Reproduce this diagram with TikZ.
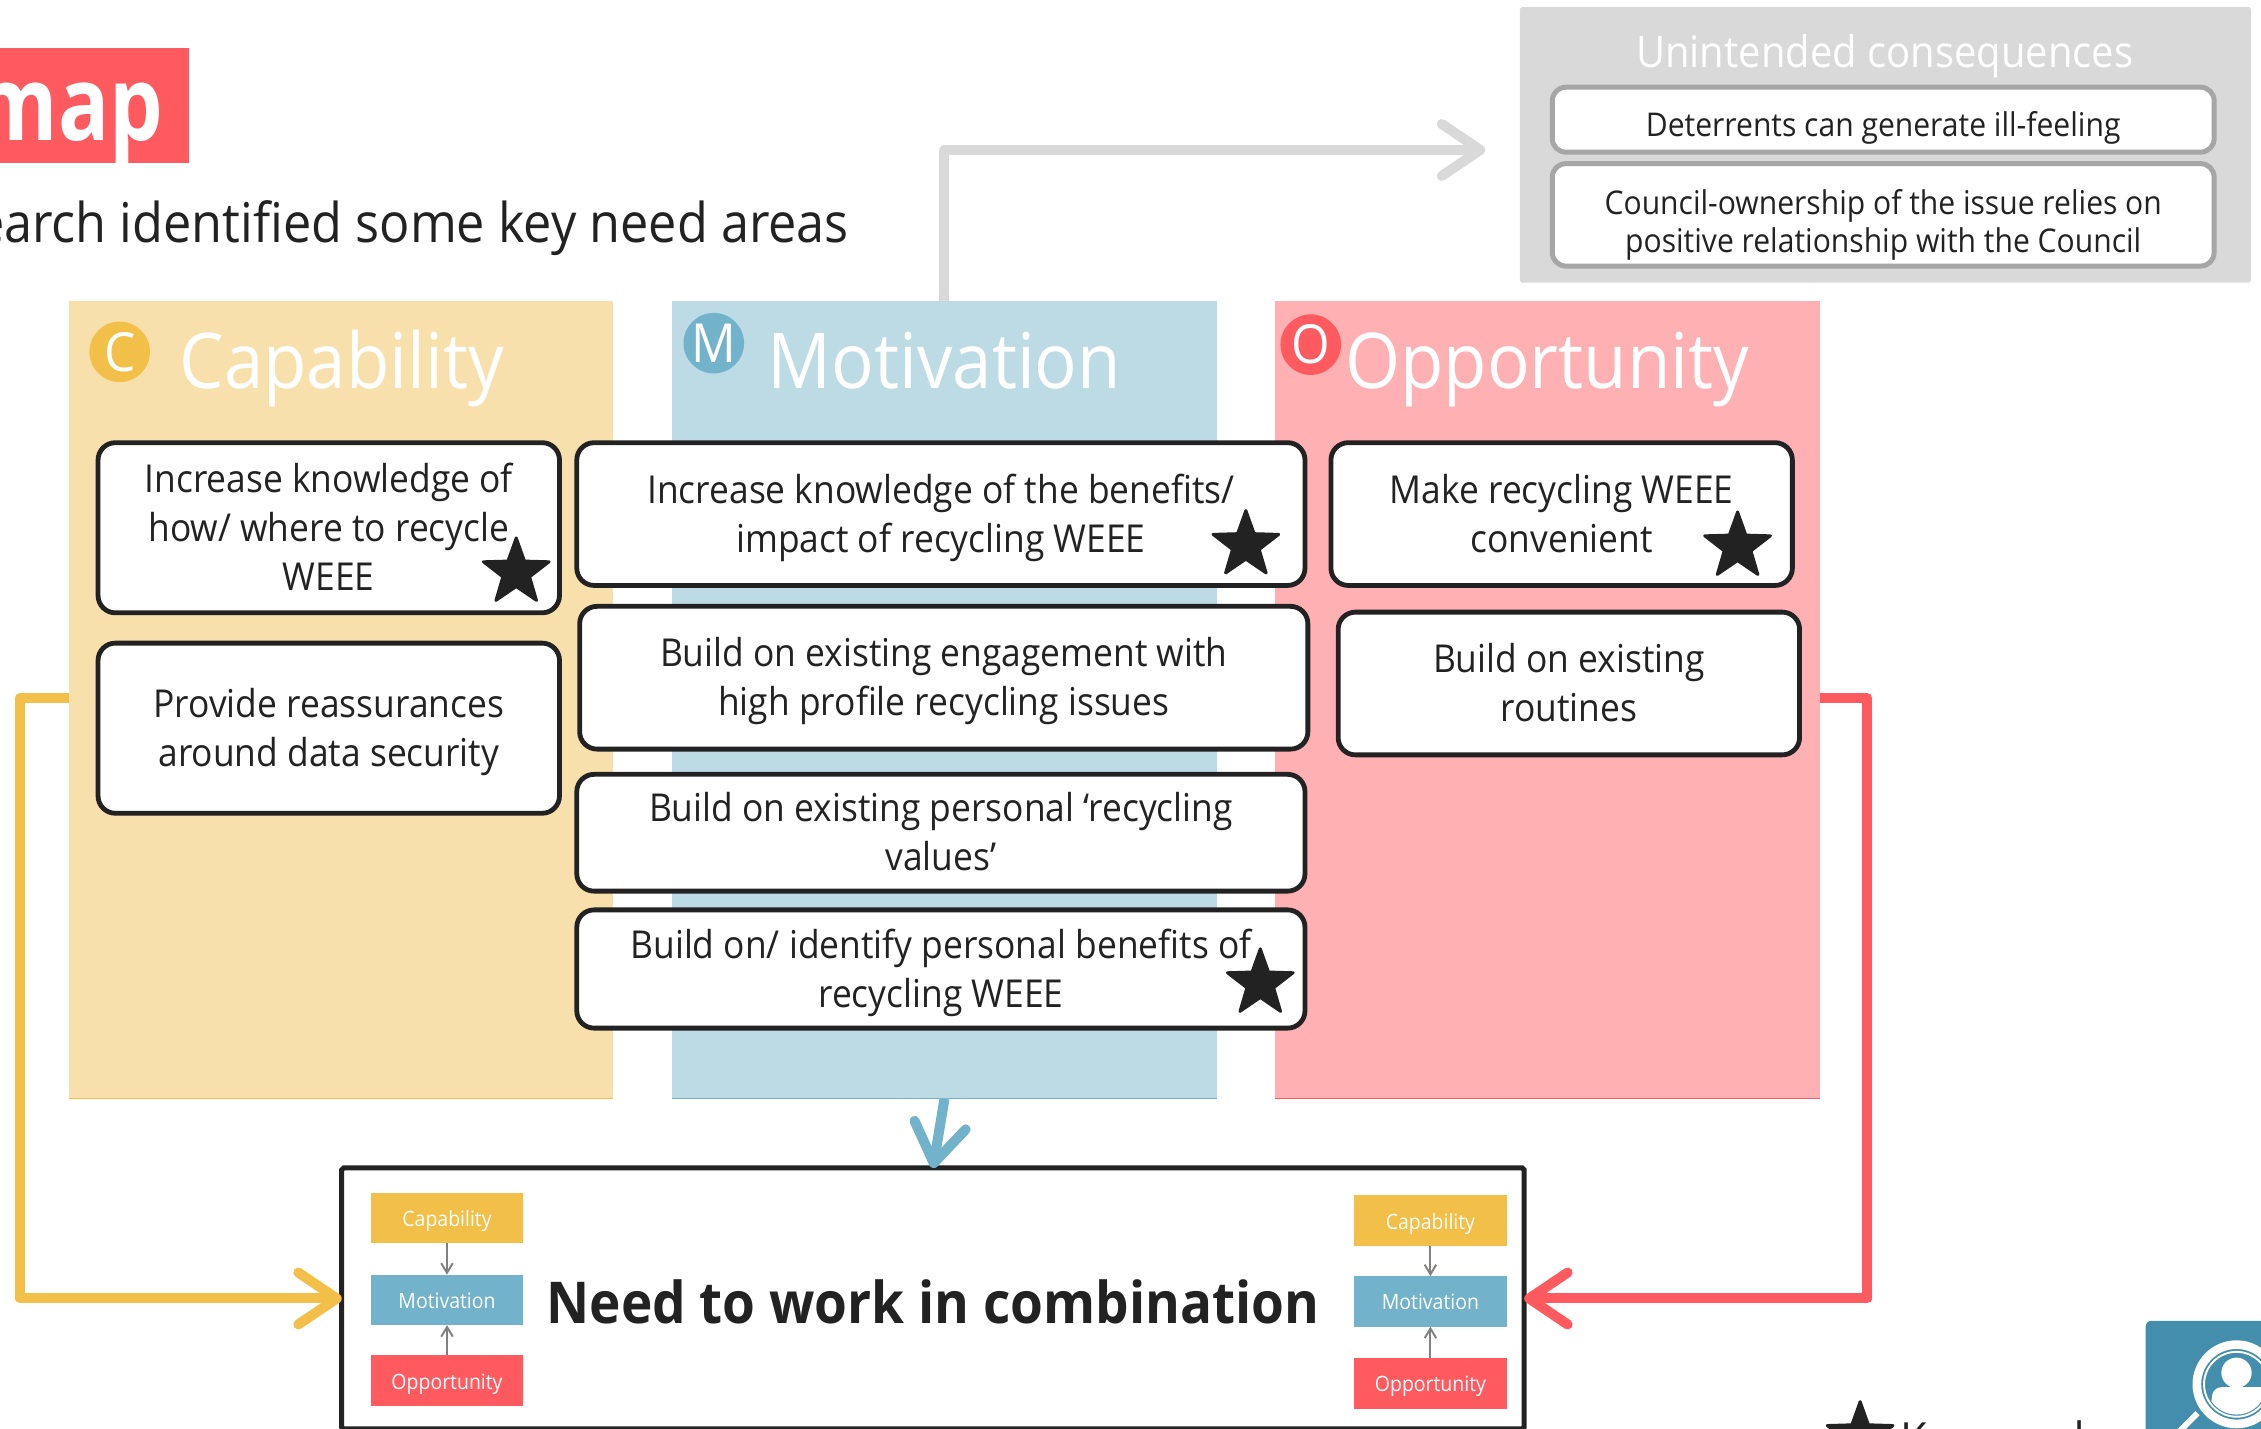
\documentclass[tikz,border=0pt]{standalone}
\usepackage{fontspec}
\setmainfont[FakeStretch=0.92]{Open Sans}
\usetikzlibrary{arrows.meta,shapes.geometric}
\definecolor{gold}{HTML}{F2BF49}
\definecolor{goldl}{HTML}{F8E0AC}
\definecolor{blu}{HTML}{72B2CA}
\definecolor{blul}{HTML}{BDDBE5}
\definecolor{redd}{HTML}{FF5A60}
\definecolor{redl}{HTML}{FFB0B3}
\definecolor{grayl}{HTML}{D9D9D9}
\definecolor{graym}{HTML}{A6A6A6}
\definecolor{ink}{HTML}{222222}
\definecolor{icon}{HTML}{438EAC}
\newcommand{\dn}[2]{\raisebox{#1}[0pt][0pt]{\begin{tabular}{@{}c@{}}#2\end{tabular}}}
\tikzset{
  sz/.style 2 args={minimum width=#1*0.75pt,minimum height=#2*0.75pt,inner sep=0pt,outer sep=0pt},
  column/.style={rectangle,fill=#1},
  coltitle/.style={anchor=base,text=white,font=\fontsize{40}{44}\selectfont},
  badge/.style 2 args={circle,fill=#1,minimum size=31.5pt,inner sep=0pt,label={[text=white,inner sep=0pt,font=\fontsize{28}{31}\selectfont]center:#2}},
  needbox/.style={draw=ink,line width=2.5pt,rounded corners=9pt,fill=white,align=center,text=ink,font=\fontsize{20}{25.5}\selectfont},
  conbox/.style={draw=graym,line width=2.6pt,rounded corners=7pt,fill=white,align=center,text=ink,font=\fontsize{17}{19.5}\selectfont},
  starmark/.style={star,star points=5,star point ratio=2.45,fill=ink,draw=ink,line width=1.5pt,line join=round,inner sep=0pt,minimum size=36pt},
  minibox/.style={rectangle,fill=#1,text=white,font=\fontsize{11}{13}\selectfont},
  thin arrow/.style={draw=gray,line width=1pt,-{Straight Barb[length=5pt,width=6pt]}},
  link/.style={draw=#1,line width=5.2pt,line join=round,-{Straight Barb[length=20pt,width=27pt,round]}},
}
\begin{document}
\begin{tikzpicture}[x=0.75pt,y=-0.75pt]
\path[use as bounding box,clip] (0,0) rectangle (1568,991);
\fill[white] (0,0) rectangle (1568,991);

% header
\node[rectangle,fill=redd,sz={131}{80},anchor=north west] (titlebox) at (0,33) {};
\node[anchor=base east,text=white,font=\bfseries\fontsize{48}{52}\selectfont] (titletext) at (118,97.5) {\scalebox{1}[1.12]{map}};
\node[anchor=base east,text=ink,font=\fontsize{28.5}{32}\selectfont] (subtitle) at (593.5,168) {earch identified some key need areas};

% columns
\node[column=goldl,sz={377}{553},anchor=north west] (capcol) at (48,209) {};
\node[column=blul,sz={378}{553},anchor=north west] (motcol) at (466,209) {};
\node[column=redl,sz={378}{553},anchor=north west] (oppcol) at (884,209) {};
\draw[gold,line width=.6pt] (capcol.south west) -- (capcol.south east);
\draw[blu,line width=.6pt] (motcol.south west) -- (motcol.south east);
\draw[redd,line width=.6pt] (oppcol.south west) -- (oppcol.south east);

\node[coltitle] (captitle) at (237,269.5) {Capability};
\node[coltitle] (mottitle) at (655,269.5) {Motivation};
\node[coltitle] (opptitle) at (1073,269.5) {Opportunity};
\node[badge={gold}{C}] (capbadge) at (83,244) {};
\node[badge={blu}{M}] (motbadge) at (495,238) {};
\node[badge={redd}{O}] (oppbadge) at (909,239) {};

% capability boxes
\node[needbox,sz={320}{118}] (c1) at (228,366) {\dn{-7.2pt}{Increase knowledge of\\how/ where to recycle\\WEEE}};
\node[needbox,sz={320}{118}] (c2) at (228,505) {\dn{-7.2pt}{Provide reassurances\\around data security}};
% motivation boxes
\node[needbox,sz={505}{99}] (m1) at (652.5,356.5) {\dn{-7.2pt}{Increase knowledge of the benefits/\\impact of recycling WEEE}};
\node[needbox,sz={505}{99}] (m2) at (654.5,470) {\dn{-7.2pt}{Build on existing engagement with\\high profile recycling issues}};
\node[needbox,sz={505}{81}] (m3) at (652.5,577.5) {\dn{-7.2pt}{Build on existing personal ‘recycling\\values’}};
\node[needbox,sz={505}{82}] (m4) at (652.5,672) {\dn{-7.2pt}{Build on/ identify personal benefits of\\recycling WEEE}};
% opportunity boxes
\node[needbox,sz={320}{99}] (o1) at (1083,356.5) {\dn{-7.2pt}{Make recycling WEEE\\convenient}};
\node[needbox,sz={320}{99}] (o2) at (1088,474) {\dn{-7.2pt}{Build on existing\\routines}};

% stars
\node[starmark] (s1) at (358,397) {};
\node[starmark] (s2) at (864,378) {};
\node[starmark] (s3) at (1205,379) {};
\node[starmark] (s4) at (874,682) {};
\node[starmark] (s5) at (1290,996) {};
\node[anchor=base west,text=ink,font=\fontsize{24.5}{28}\selectfont] (keytext) at (1313,1010) {Key need};

% unintended consequences
\node[rectangle,fill=grayl,rounded corners=1pt,sz={507}{191},anchor=north west] (ubox) at (1054,5) {};
\node[anchor=base,text=white,font=\fontsize{22.6}{26}\selectfont] (utitle) at (1307,46.5) {Unintended consequences};
\node[conbox,sz={459}{45}] (u1) at (1306,83) {\dn{-9.25pt}{Deterrents can generate ill-feeling}};
\node[conbox,sz={459}{71}] (u2) at (1306,149) {\dn{-10pt}{Council-ownership of the issue relies on\\positive relationship with the Council}};

% combination box
\node[rectangle,draw=ink,line width=2.6pt,fill=white,rounded corners=1pt,sz={820}{181},anchor=north west] (need) at (237,810) {};
\node[anchor=base,text=ink,font=\bfseries\fontsize{30}{34}\selectfont] (needtext) at (647,918) {Need to work in combination};

\node[minibox=gold,sz={106}{35}] (la) at (310,844.5) {\dn{-4.5pt}{Capability}};
\node[minibox=blu,sz={106}{35}] (lb) at (310,901.5) {\dn{-4.5pt}{Motivation}};
\node[minibox=redd,sz={106}{35}] (lc) at (310,957.5) {\dn{-4.5pt}{Opportunity}};
\draw[thin arrow] (la) -- (lb);
\draw[thin arrow] (lc) -- (lb);
\node[minibox=gold,sz={106}{35}] (ra) at (992,846.5) {\dn{-4.5pt}{Capability}};
\node[minibox=blu,sz={106}{35}] (rb) at (992,902.5) {\dn{-4.5pt}{Motivation}};
\node[minibox=redd,sz={106}{35}] (rc) at (992,959.5) {\dn{-4.5pt}{Opportunity}};
\draw[thin arrow] (ra) -- (rb);
\draw[thin arrow] (rc) -- (rb);

% connectors
\draw[link=gold] ([yshift=1pt]capcol.west) -- ++(-34,0) |- (need.west);
\draw[link=redd] ([yshift=1pt]oppcol.east) -- ++(33,0) |- (need.east);
\draw[link=blu] (motcol.south) -- (need.north);
\coordinate (uend) at (1030,104);
\draw[link=grayl] (motcol.north) |- (uend);

% icon
\fill[icon,rounded corners=3pt] (1488,916) rectangle (1590,1010);
\draw[white,line width=4.5pt] (1551,960) circle[radius=27.5];
\draw[white,line width=1pt] (1551,960) circle[radius=22.5];
\fill[white] (1551,952) circle[radius=10.5];
\begin{scope}
\clip (1551,960) circle[radius=21];
\fill[white,rounded corners=4pt] (1531,990) -- (1535,962) -- (1575,962) -- (1575,990) -- cycle;
\end{scope}
\draw[white,line width=3pt] (1524,980) -- (1511,993);
\end{tikzpicture}
\end{document}
